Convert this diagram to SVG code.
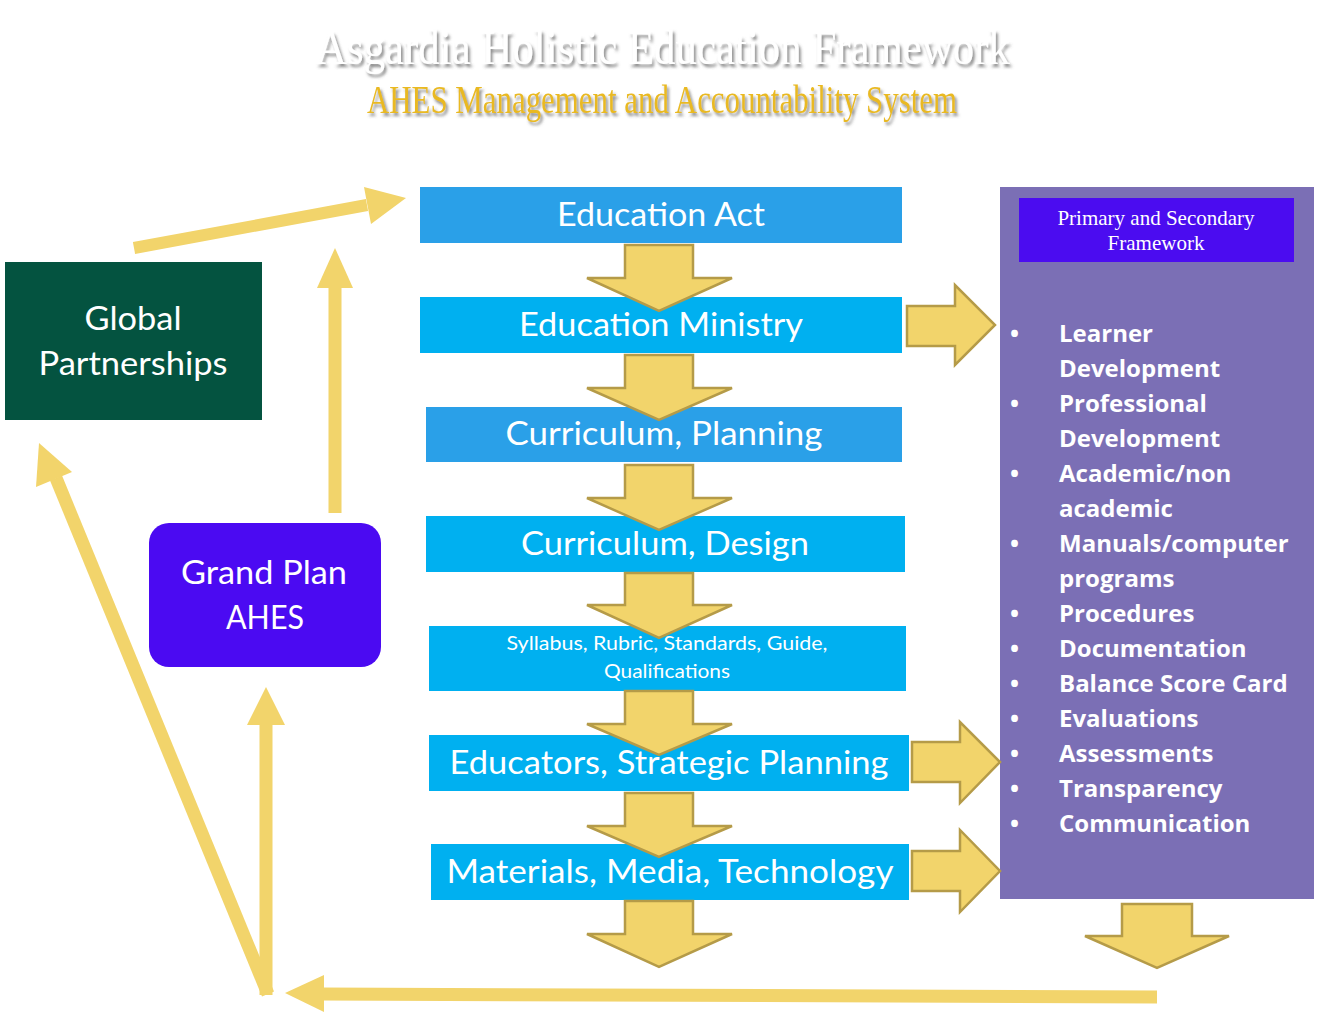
<svg xmlns="http://www.w3.org/2000/svg" width="1319" height="1033" viewBox="0 0 1319 1033">
<defs>
<style>
.box{font-family:Lato,"Open Sans",sans-serif;fill:#fff;text-anchor:middle}
.big{font-size:32px}
.blt{font-family:"Open Sans",Lato,sans-serif;font-weight:bold;font-size:24px;fill:#fff}
.ba{fill:#F2D46B;stroke:#B59B48;stroke-width:2.5;stroke-linejoin:miter}
.ya{fill:#F2D46B}
.yl{stroke:#F2D46B;fill:none}
</style>
<filter id="sh" x="-5%" y="-20%" width="110%" height="150%">
<feDropShadow dx="2" dy="3" stdDeviation="1.5" flood-color="#555" flood-opacity="0.7"/>
</filter>
</defs>
<rect width="1319" height="1033" fill="#fff"/>
<g id="title">
<text x="663" y="64" font-family="Liberation Serif,serif" font-size="49" fill="#fff" text-anchor="middle" textLength="694" lengthAdjust="spacingAndGlyphs" filter="url(#sh)">Asgardia Holistic Education Framework</text>
<text x="662" y="113" font-family="Liberation Serif,serif" font-size="41" fill="#E9B922" text-anchor="middle" textLength="590" lengthAdjust="spacingAndGlyphs" filter="url(#sh)">AHES Management and Accountability System</text>
</g>
<g id="education-act"><rect x="420" y="187" width="482" height="56" fill="#2AA0E8"/><text class="box big" x="661" y="226" textLength="208" lengthAdjust="spacingAndGlyphs">Education Act</text></g>
<g id="education-ministry"><rect x="420" y="297" width="482" height="56" fill="#00B0F0"/><text class="box big" x="661" y="336" textLength="284" lengthAdjust="spacingAndGlyphs">Education Ministry</text></g>
<g id="curriculum-planning"><rect x="426" y="407" width="476" height="55" fill="#2AA0E8"/><text class="box big" x="664" y="445" textLength="317" lengthAdjust="spacingAndGlyphs">Curriculum, Planning</text></g>
<g id="curriculum-design"><rect x="426" y="516" width="479" height="56" fill="#00B0F0"/><text class="box big" x="665" y="555" textLength="288" lengthAdjust="spacingAndGlyphs">Curriculum, Design</text></g>
<g id="syllabus"><rect x="429" y="626" width="477" height="65" fill="#00B0F0"/><text class="box" font-size="20" x="667" y="650" textLength="321" lengthAdjust="spacingAndGlyphs">Syllabus, Rubric, Standards, Guide,</text><text class="box" font-size="20" x="667" y="678" textLength="126" lengthAdjust="spacingAndGlyphs">Qualifications</text></g>
<g id="educators"><rect x="429" y="735" width="480" height="56" fill="#00B0F0"/><text class="box big" x="669" y="774" textLength="439" lengthAdjust="spacingAndGlyphs">Educators, Strategic Planning</text></g>
<g id="materials"><rect x="431" y="844" width="478" height="56" fill="#00B0F0"/><text class="box big" x="670" y="883" textLength="447" lengthAdjust="spacingAndGlyphs">Materials, Media, Technology</text></g>
<g id="framework-panel">
<rect x="1000" y="187" width="314" height="712" fill="#7B6FB5"/>
<rect x="1019" y="198" width="275" height="64" fill="#4B0CF0"/>
<text x="1156" y="225" font-family="Liberation Serif,serif" font-size="21" fill="#fff" text-anchor="middle">Primary and Secondary</text>
<text x="1156" y="250" font-family="Liberation Serif,serif" font-size="21" fill="#fff" text-anchor="middle">Framework</text>
<g class="blt">
<text x="1010" y="342">•</text><text x="1059" y="342">Learner</text>
<text x="1059" y="377">Development</text>
<text x="1010" y="412">•</text><text x="1059" y="412">Professional</text>
<text x="1059" y="447">Development</text>
<text x="1010" y="482">•</text><text x="1059" y="482">Academic/non</text>
<text x="1059" y="517">academic</text>
<text x="1010" y="552">•</text><text x="1059" y="552">Manuals/computer</text>
<text x="1059" y="587">programs</text>
<text x="1010" y="622">•</text><text x="1059" y="622">Procedures</text>
<text x="1010" y="657">•</text><text x="1059" y="657">Documentation</text>
<text x="1010" y="692">•</text><text x="1059" y="692">Balance Score Card</text>
<text x="1010" y="727">•</text><text x="1059" y="727">Evaluations</text>
<text x="1010" y="762">•</text><text x="1059" y="762">Assessments</text>
<text x="1010" y="797">•</text><text x="1059" y="797">Transparency</text>
<text x="1010" y="832">•</text><text x="1059" y="832">Communication</text>
</g>
</g>
<g id="global-partnerships"><rect x="5" y="262" width="257" height="158" fill="#045340"/><text class="box big" x="133" y="330" textLength="97" lengthAdjust="spacingAndGlyphs">Global</text><text class="box big" x="133" y="375" textLength="189" lengthAdjust="spacingAndGlyphs">Partnerships</text></g>
<g id="grand-plan"><rect x="149" y="523" width="232" height="144" rx="20" fill="#4B0AF2"/><text class="box big" x="264" y="584" textLength="166" lengthAdjust="spacingAndGlyphs">Grand Plan</text><text class="box big" x="265" y="629" textLength="78" lengthAdjust="spacingAndGlyphs">AHES</text></g>
<g id="connectors">
<path class="ba" d="M625 245H693V278H732L659 311L587 278H625Z"/>
<path class="ba" d="M625 355H693V388H732L659 420L587 388H625Z"/>
<path class="ba" d="M625 465H693V498H732L659 530L587 498H625Z"/>
<path class="ba" d="M625 573H693V605H732L659 638L587 605H625Z"/>
<path class="ba" d="M625 691H693V724H732L659 755L587 724H625Z"/>
<path class="ba" d="M625 793H693V826H732L659 857L587 826H625Z"/>
<path class="ba" d="M625 901H693V934H732L659 967L587 934H625Z"/>
<path class="ba" d="M1122 904H1192V936H1229L1157 968L1085 936H1122Z"/>
<path class="ba" d="M907 306H955V285L995 325L955 365V346H907Z"/>
<path class="ba" d="M912 742H960V722L1000 762L960 803V782H912Z"/>
<path class="ba" d="M912 851H960V830L1000 871L960 912V891H912Z"/>
<line class="yl" x1="134" y1="248" x2="367" y2="205" stroke-width="12"/>
<polygon class="ya" points="406,198 371,224 364,187"/>
<line class="yl" x1="335" y1="513" x2="335" y2="285" stroke-width="13"/>
<polygon class="ya" points="335,248 353,288 317,288"/>
<line class="yl" x1="268" y1="994" x2="56" y2="478" stroke-width="13"/>
<polygon class="ya" points="39,443 72,472 36,487"/>
<line class="yl" x1="266" y1="995" x2="266" y2="722" stroke-width="13"/>
<polygon class="ya" points="266,687 285,725 247,725"/>
<line class="yl" x1="1157" y1="997" x2="320" y2="994" stroke-width="13"/>
<polygon class="ya" points="285,993 324,975 324,1012"/>
</g>
</svg>
